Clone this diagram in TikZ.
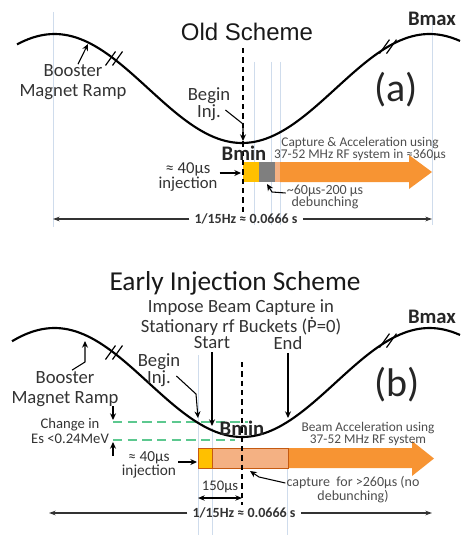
\documentclass[tikz,border=0pt]{standalone}
\usepackage{fontspec}
\setmainfont{Carlito}
\newfontfamily\arialfont{Liberation Sans}
\usetikzlibrary{arrows.meta}
\definecolor{txt}{HTML}{333333}
\definecolor{smalltxt}{HTML}{4D4D4D}
\definecolor{guide}{HTML}{CFDCEC}
\definecolor{yel}{HTML}{FFC000}
\definecolor{gry}{HTML}{7F7F7F}
\definecolor{salmon}{HTML}{F4B183}
\definecolor{org}{HTML}{F79433}
\definecolor{grn}{HTML}{5CC88F}
\definecolor{barline}{HTML}{C55A11}
\begin{document}
\begin{tikzpicture}[x=0.75pt,y=-0.75pt,
  every node/.style={inner sep=0pt,align=center,text=txt},
  lab/.style={font=\fontsize{14}{10.5}\selectfont},
  lab2/.style={font=\fontsize{14}{15}\selectfont},
  inj/.style={font=\fontsize{12.5}{11.2}\selectfont},
  small/.style={font=\fontsize{10}{9.5}\selectfont,text=smalltxt},
  bold/.style={font=\fontsize{15.5}{16}\selectfont\bfseries,text=black!85},
  span/.style={font=\fontsize{10.5}{11}\selectfont\bfseries,text=black!80},
  panel/.style={font=\fontsize{30}{30}\selectfont,text=black!85},
  ramp/.style={line width=1.6pt,black},
  brk/.style={line width=0.9pt,black},
  arr/.style={line width=0.8pt,black,-{Stealth[length=5pt,width=4.5pt]}},
  spanarr/.style={line width=0.8pt,black!80,-{Stealth[length=5pt,width=3.5pt]}},
  guideline/.style={guide,line width=0.6pt},
  vdash/.style={line width=1pt,black,dash pattern=on 4pt off 3pt},
  gdash/.style={grn,line width=1.2pt,dash pattern=on 7pt off 4pt},
]
\useasboundingbox (0,0) rectangle (464,535);

% ---------------- panel (a) ----------------
\draw[guideline] (53,12) -- (53,227);
\draw[guideline] (254,62) -- (254,225);
\draw[guideline] (271,62) -- (271,225);
\draw[guideline] (280,62) -- (280,225);
\draw[guideline] (432,20) -- (432,225);

\fill[yel] (243,162) rectangle (259,182);
\fill[gry] (259,162) rectangle (275,182);
\fill[salmon] (275,162) rectangle (280,182);
\fill[org] (280,162) -- (409,162) -- (409,155) -- (432,172) -- (409,189) -- (409,182) -- (280,182) -- cycle;

\draw[vdash] (243,48) -- (243,213);

\draw[ramp] plot[domain=17:460,samples=120,smooth] (\x,{88.5-54.5*cos(0.96*(\x-54.5))});
\coordinate (brA1) at (114,58.5);
\coordinate (brA2) at (388,46.6);

\node[font=\arialfont\fontsize{18}{18}\selectfont,text=black!90] (titleA) at (247,32) {Old Scheme};
\node[bold] (bmaxA) at (432,19) {Bmax};
\node[panel] (panelA) at (396,90) {(a)};
\node[lab2] (boosterA) at (73,82) {Booster\\Magnet Ramp};
\node[lab] (beginA) at (209,104) {Begin\\Inj.};
\node[bold] (bminA) at (244,153) {Bmin};
\node[inj] (injA) at (188,177) {≈ 40μs\\injection};
\node[small] (capA) at (360,149) {Capture \& Acceleration using\\37-52 MHz RF system in ≈360μs};
\node[small,font=\fontsize{10.5}{9.5}\selectfont] (debA) at (325,197) {\textasciitilde60μs-200 μs\\debunching};
\node[span] (spanA) at (246,219) {1/15Hz ≈ 0.0666 s};

\coordinate (rampA) at (88,44);
\coordinate (bminptA) at (243,141);
\coordinate (yelA) at (241,173);
\coordinate (gryA) at (267,184);
\coordinate (spanAl) at (53,219);
\coordinate (spanAr) at (432,219);

\draw[arr] ([shift={(5,0)}]boosterA.north) -- (rampA);
\draw[arr] ([shift={(-5,6)}]beginA.east) -- (243,124) -- (bminptA);
\draw[arr] ([shift={(2,-4)}]injA.east) -- (yelA);
\draw[arr] ([shift={(-1,-4)}]debA.west) -- (272,192) -- (gryA);
\draw[spanarr] ([shift={(-5,0)}]spanA.west) -- (spanAl);
\draw[spanarr] ([shift={(5,0)}]spanA.east) -- (spanAr);

% ---------------- panel (b) ----------------
\draw[guideline] (198,355) -- (198,535);
\draw[guideline] (212,428) -- (212,535);
\draw[guideline] (287,468) -- (287,535);

\draw[gdash] (113,422) -- (248,422);
\draw[gdash] (113,440) -- (235,440);

\fill[org] (288,448) -- (412,448) -- (412,441) -- (434,458.5) -- (412,476) -- (412,468) -- (288,468) -- cycle;
\filldraw[fill=salmon,draw=barline,line width=0.4pt] (212,448) rectangle (288,468);
\filldraw[fill=yel,draw=barline,line width=0.4pt] (198,448) rectangle (212,468);

\draw[vdash] (242,362) -- (242,505);

\draw[ramp] plot[domain=12:460,samples=120,smooth] (\x,{382.5-54.5*cos(0.96*(\x-54.5))});
\coordinate (brB1) at (114,352.5);
\coordinate (brB2) at (388,340.6);

\foreach \c in {brA1,brA2,brB1,brB2}
  \foreach \d in {-3.5,3.5}
    \draw[brk] ([shift={({\d-5},7)}]\c) -- ([shift={({\d+5},-7)}]\c);

\node[font=\fontsize{20.5}{20}\selectfont,text=black!90] (titleB) at (235,283) {Early Injection Scheme};
\node[font=\fontsize{14}{14.6}\selectfont] (imposeB) at (241,317.5) {Impose Beam Capture in\\Stationary rf Buckets (Ṗ=0)};
\node[lab] (startB) at (212,343) {Start};
\node[lab] (endB) at (288,343) {End};
\node[bold] (bmaxB) at (432,317) {Bmax};
\node[panel] (panelB) at (397,385) {(b)};
\node[lab2] (boosterB) at (65,389) {Booster\\Magnet Ramp};
\node[lab] (beginB) at (159,370) {Begin\\Inj.};
\node[bold] (bminB) at (242,428) {Bmin};
\node[font=\fontsize{11}{11.2}\selectfont] (changeB) at (70,431) {Change in\\Es <0.24MeV};
\node[inj,font=\fontsize{11.5}{10.5}\selectfont] (injB) at (149,465) {≈ 40μs\\injection};
\node[small] (accB) at (368,434) {Beam Acceleration using\\37-52 MHz RF system};
\node[small,font=\fontsize{10.5}{10.5}\selectfont] (capB) at (353,490) {capture\ \ for >260μs (no\\debunching)};
\node[font=\fontsize{11}{11}\selectfont] (t150) at (220,487) {150μs};
\node[span] (spanB) at (244,513) {1/15Hz ≈ 0.0666 s};

\coordinate (startpt) at (212,426);
\coordinate (endpt) at (288,418);
\coordinate (beginpt) at (198,418);
\coordinate (rampB) at (85,341);
\coordinate (gUtop) at (113,406);
\coordinate (gU) at (113,420);
\coordinate (gLbot) at (113,456);
\coordinate (gL) at (113,442);
\coordinate (yelB) at (197,462);
\coordinate (salB) at (250,471);
\coordinate (dl) at (198,498);
\coordinate (dr) at (242,498);
\coordinate (spanBl) at (49,513);
\coordinate (spanBr) at (432,513);

\draw[arr] ([shift={(0,3)}]startB.south) -- (startpt);
\draw[arr] ([shift={(0,3)}]endB.south) -- (endpt);
\draw[arr] ([shift={(-4,6)}]beginB.east) -- (196,394) -- (beginpt);
\draw[arr] ([shift={(7,-1)}]boosterB.north) -- (85,362) -- (rampB);
\draw[arr] (gUtop) -- (gU);
\draw[arr] (gLbot) -- (gL);
\draw[arr] ([shift={(2,-3)}]injB.east) -- (yelB);
\draw[arr] ([shift={(-1,-7)}]capB.west) -- (259,477) -- (salB);
\draw[line width=0.8pt,{Stealth[length=5pt,width=4pt]}-{Stealth[length=5pt,width=4pt]}] (dl) -- (dr);
\draw[spanarr] ([shift={(-5,0)}]spanB.west) -- (spanBl);
\draw[spanarr] ([shift={(5,0)}]spanB.east) -- (spanBr);
\end{tikzpicture}
\end{document}
